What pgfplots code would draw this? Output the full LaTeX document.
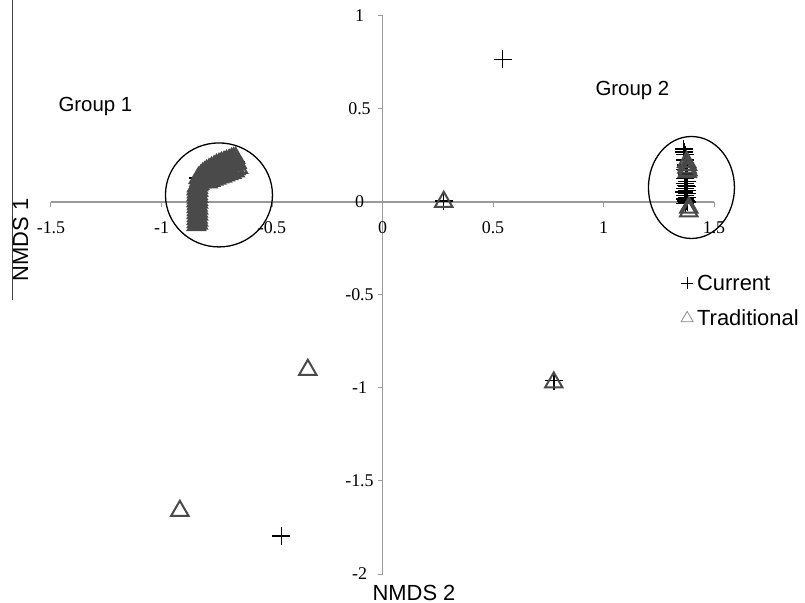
\documentclass[border=0pt]{standalone}
\usepackage{fontspec}
\setmainfont{Liberation Sans}
\newfontfamily\seriffont{Liberation Serif}
\usepackage{pgfplots}
\usepackage{pgfplotstable}
\pgfplotsset{compat=1.18}
\definecolor{axgray}{HTML}{9A9A9A}
\definecolor{trigray}{HTML}{4A4A4A}
\definecolor{leggray}{HTML}{8A8A8A}

\pgfplotstableread{
x y
0.544 0.767
-0.458 -1.796
0.775 -0.960
0.277 0.005
1.362 0.285
1.366 0.270
1.371 0.255
1.368 0.225
1.375 0.200
1.371 0.175
1.377 0.150
1.371 0.125
1.378 0.110
1.368 0.100
1.374 0.090
1.380 0.082
1.370 0.072
1.376 0.062
1.366 0.055
1.378 0.045
1.371 0.035
1.376 0.025
1.368 0.015
1.373 0.005
1.379 0.000
1.370 -0.008
-0.837 -0.110
-0.837 -0.050
-0.837 0.010
-0.837 0.129
-0.790 0.150
-0.735 0.175
-0.665 0.215
}\current

\pgfplotstableread{
x y
-0.338 -0.902
-0.917 -1.660
0.775 -0.970
0.277 0.001
1.376 0.215
1.380 0.200
1.378 0.185
1.382 0.170
1.379 0.160
1.386 -0.030
1.386 -0.050
}\traditional

\pgfplotstableread{
x y
-0.842 -0.124
-0.834 -0.116
-0.841 -0.108
-0.833 -0.100
-0.842 -0.092
-0.835 -0.084
-0.841 -0.076
-0.833 -0.068
-0.842 -0.060
-0.834 -0.052
-0.841 -0.044
-0.833 -0.036
-0.842 -0.028
-0.835 -0.020
-0.841 -0.012
-0.833 -0.004
-0.842 0.004
-0.834 0.012
-0.841 0.020
-0.833 0.028
-0.842 0.036
-0.835 0.044
-0.841 0.052
-0.833 0.060
-0.842 0.068
-0.834 0.076
-0.841 0.084
-0.833 0.090
-0.828 0.097
-0.819 0.105
-0.810 0.113
-0.798 0.118
-0.787 0.124
-0.776 0.129
-0.765 0.134
-0.753 0.139
-0.742 0.145
-0.730 0.148
-0.719 0.151
-0.708 0.156
-0.697 0.161
-0.685 0.166
-0.674 0.172
-0.663 0.177
-0.652 0.183
-0.830 0.113
-0.821 0.122
-0.812 0.132
-0.801 0.138
-0.791 0.146
-0.780 0.152
-0.769 0.158
-0.757 0.165
-0.746 0.172
-0.735 0.176
-0.724 0.180
-0.712 0.185
-0.701 0.190
-0.689 0.196
-0.678 0.201
-0.668 0.205
-0.658 0.210
-0.833 0.129
-0.823 0.140
-0.814 0.151
-0.805 0.159
-0.796 0.167
-0.785 0.175
-0.774 0.183
-0.762 0.191
-0.751 0.199
-0.740 0.204
-0.729 0.210
-0.717 0.215
-0.706 0.220
-0.694 0.225
-0.683 0.231
-0.674 0.234
-0.665 0.237
-0.790 0.106
-0.777 0.113
-0.764 0.120
-0.751 0.126
-0.738 0.132
-0.725 0.137
-0.711 0.143
-0.697 0.150
-0.682 0.157
-0.667 0.164
}\tradcluster

\begin{document}
\begin{tikzpicture}
\path[use as bounding box] (0,0) rectangle (805bp,603bp);
\draw[line width=1bp, black!75] (12bp,603bp) -- (12bp,303bp);
\node[anchor=base, font=\fontsize{22}{26}\selectfont] at (414bp,3bp) {NMDS 2};
\node[rotate=90, anchor=base, font=\fontsize{22}{26}\selectfont] at (28bp,363bp) {NMDS 1};
\begin{axis}[
  at={(51bp,29bp)}, anchor=south west,
  scale only axis, width=663bp, height=558bp,
  xmin=-1.5, xmax=1.5, ymin=-2, ymax=1,
  axis lines=middle,
  axis line style={axgray, line width=1.2bp, -},
  xtick={-1.5,-1,-0.5,0,0.5,1,1.5},
  xticklabels={-1.5,-1,-0.5,0,0.5,1,1.5},
  ytick={-2,-1.5,-1,-0.5,0,0.5,1},
  yticklabels={-2,-1.5,-1,-0.5,0,0.5,1},
  hide obscured x ticks=false, hide obscured y ticks=false,
  tick align=outside, major tick length=5bp,
  tick style={axgray, line width=1bp},
  ticklabel style={font=\seriffont\fontsize{18}{20}\selectfont},
  xticklabel style={yshift=-11bp},
  yticklabel style={anchor=center, xshift=-18bp},
  clip=false,
  legend cell align=left,
  legend image code/.code={\draw[#1] plot coordinates {(6bp,0bp)};},
  legend style={at={(0.950,0.540)}, anchor=north west, draw=none, fill=none,
    inner sep=0pt, row sep=14bp, font=\fontsize{22}{26}\selectfont,
    /tikz/every odd column/.append style={column sep=2bp}},
]
\addplot[only marks, mark=+, mark size=9bp, line width=1.5bp, black, forget plot]
  table[x=x, y=y] {\current};
\addplot[only marks, mark=triangle, mark size=10bp, line width=2bp, trigray, forget plot]
  table[x=x, y=y] {\traditional};
\addplot[only marks, mark=triangle, mark size=10bp, line width=2bp, trigray, forget plot]
  table[x=x, y=y] {\tradcluster};
\addlegendimage{only marks, mark=+, mark size=6bp, line width=0.8bp, black}
\addlegendentry{Current}
\addlegendimage{only marks, mark=triangle, mark size=7bp, line width=0.8bp, leggray}
\addlegendentry{Traditional}
\draw[black, line width=1.3bp] (axis cs:-0.740,0.038) ellipse [x radius=53.5bp, y radius=52bp];
\draw[black, line width=1.3bp] (axis cs:1.398,0.078) ellipse [x radius=43bp, y radius=51bp];
\node[font=\fontsize{20.5}{24}\selectfont] at (axis cs:-1.299,0.516) {Group 1};
\node[font=\fontsize{20.5}{24}\selectfont] at (axis cs:1.131,0.602) {Group 2};
\end{axis}
\end{tikzpicture}
\end{document}
